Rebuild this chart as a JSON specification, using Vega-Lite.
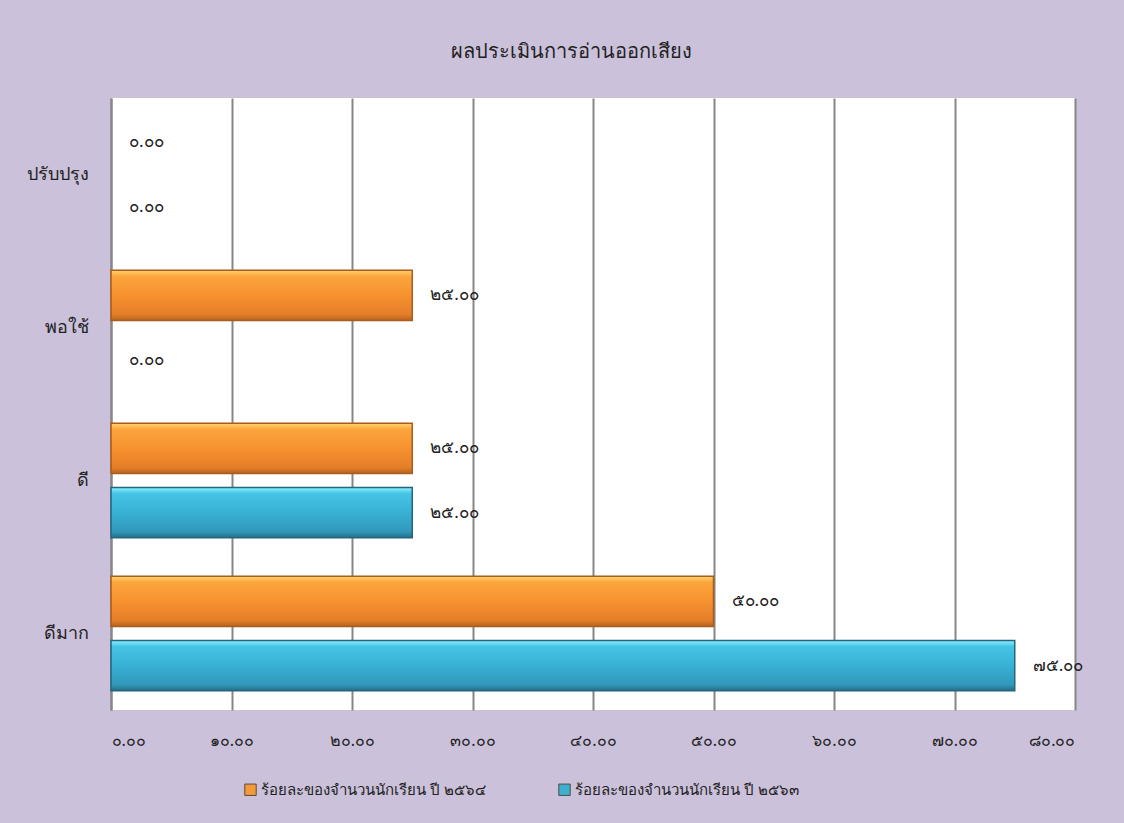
{
  "$schema": "https://vega.github.io/schema/vega-lite/v6.json",
  "autosize": {"type": "none"},
  "width": 964,
  "height": 612,
  "padding": {"left": 111, "top": 98, "right": 49, "bottom": 113},
  "background": "#CBC1DB",
  "config": {
    "font": "Tahoma, Noto Sans, sans-serif",
    "view": {"stroke": null, "fill": "white"}
  },
  "title": {
    "text": "ผลประเมินการอ่านออกเสียง",
    "fontSize": 20,
    "fontWeight": "normal",
    "color": "#222222",
    "anchor": "middle",
    "dx": -22,
    "offset": 36
  },
  "data": {
    "values": [
      {"category": "ปรับปรุง", "series": "ร้อยละของจำนวนนักเรียน ปี ๒๕๖๔", "value": 0},
      {"category": "ปรับปรุง", "series": "ร้อยละของจำนวนนักเรียน ปี ๒๕๖๓", "value": 0},
      {"category": "พอใช้", "series": "ร้อยละของจำนวนนักเรียน ปี ๒๕๖๔", "value": 25},
      {"category": "พอใช้", "series": "ร้อยละของจำนวนนักเรียน ปี ๒๕๖๓", "value": 0},
      {"category": "ดี", "series": "ร้อยละของจำนวนนักเรียน ปี ๒๕๖๔", "value": 25},
      {"category": "ดี", "series": "ร้อยละของจำนวนนักเรียน ปี ๒๕๖๓", "value": 25},
      {"category": "ดีมาก", "series": "ร้อยละของจำนวนนักเรียน ปี ๒๕๖๔", "value": 50},
      {"category": "ดีมาก", "series": "ร้อยละของจำนวนนักเรียน ปี ๒๕๖๓", "value": 75}
    ]
  },
  "encoding": {
    "y": {
      "field": "category",
      "type": "nominal",
      "sort": ["ปรับปรุง", "พอใช้", "ดี", "ดีมาก"],
      "scale": {"paddingInner": 0, "paddingOuter": 0},
      "axis": {
        "title": null,
        "ticks": false,
        "labelFontSize": 18,
        "labelColor": "#222222",
        "labelPadding": 23,
        "domainColor": "#868686",
        "domainWidth": 2
      }
    },
    "yOffset": {
      "field": "series",
      "type": "nominal",
      "sort": ["ร้อยละของจำนวนนักเรียน ปี ๒๕๖๔", "ร้อยละของจำนวนนักเรียน ปี ๒๕๖๓"],
      "scale": {"paddingInner": 0.22, "paddingOuter": 0.3}
    },
    "x": {
      "field": "value",
      "type": "quantitative",
      "scale": {"domain": [0, 80], "nice": false},
      "axis": {
        "title": null,
        "values": [0, 10, 20, 30, 40, 50, 60, 70, 80],
        "labelExpr": "replace(replace(replace(replace(replace(replace(replace(replace(replace(replace(format(datum.value,'.2f'),regexp('0','g'),'๐'),regexp('1','g'),'๑'),regexp('2','g'),'๒'),regexp('3','g'),'๓'),regexp('4','g'),'๔'),regexp('5','g'),'๕'),regexp('6','g'),'๖'),regexp('7','g'),'๗'),regexp('8','g'),'๘'),regexp('9','g'),'๙')",
        "labelFontSize": 16,
        "labelColor": "#222222",
        "labelPadding": 22,
        "ticks": false,
        "domain": false,
        "grid": true,
        "gridColor": "#868686",
        "gridWidth": 2,
        "gridOpacity": 1
      }
    }
  },
  "layer": [
    {
      "mark": {"type": "bar", "strokeWidth": 0},
      "encoding": {
        "color": {
          "field": "series",
          "type": "nominal",
          "sort": ["ร้อยละของจำนวนนักเรียน ปี ๒๕๖๔", "ร้อยละของจำนวนนักเรียน ปี ๒๕๖๓"],
          "scale": {"range": ["#F39A3A", "#3BB0D2"]},
          "legend": {
            "title": null,
            "orient": "none",
            "direction": "horizontal",
            "legendX": 132,
            "legendY": 684,
            "symbolType": "square",
            "symbolSize": 130,
            "symbolStrokeColor": "#5a4a3a",
            "symbolStrokeWidth": 1,
            "labelFontSize": 15,
            "labelLimit": 0,
            "labelColor": "#222222",
            "labelOffset": 3,
            "columnPadding": 70
          }
        }
      }
    },
    {
      "transform": [{"filter": "datum.series == 'ร้อยละของจำนวนนักเรียน ปี ๒๕๖๔' && datum.value > 0"}],
      "mark": {
        "type": "bar",
        "stroke": "#A95C1E",
        "strokeWidth": 1.5,
        "fill": {
          "gradient": "linear", "x1": 0, "y1": 0, "x2": 0, "y2": 1,
          "stops": [
            {"offset": 0, "color": "#FFD56C"},
            {"offset": 0.12, "color": "#FCA53D"},
            {"offset": 0.5, "color": "#F6922F"},
            {"offset": 0.88, "color": "#E47E29"},
            {"offset": 1, "color": "#B8641F"}
          ]
        }
      }
    },
    {
      "transform": [{"filter": "datum.series == 'ร้อยละของจำนวนนักเรียน ปี ๒๕๖๓' && datum.value > 0"}],
      "mark": {
        "type": "bar",
        "stroke": "#24667F",
        "strokeWidth": 1.5,
        "fill": {
          "gradient": "linear", "x1": 0, "y1": 0, "x2": 0, "y2": 1,
          "stops": [
            {"offset": 0, "color": "#8AF0FF"},
            {"offset": 0.12, "color": "#46C4E5"},
            {"offset": 0.5, "color": "#38B1D5"},
            {"offset": 0.88, "color": "#3198BA"},
            {"offset": 1, "color": "#246E87"}
          ]
        }
      }
    },
    {
      "transform": [
        {"calculate": "replace(replace(replace(replace(replace(replace(replace(replace(replace(replace(format(datum.value,'.2f'),regexp('0','g'),'๐'),regexp('1','g'),'๑'),regexp('2','g'),'๒'),regexp('3','g'),'๓'),regexp('4','g'),'๔'),regexp('5','g'),'๕'),regexp('6','g'),'๖'),regexp('7','g'),'๗'),regexp('8','g'),'๘'),regexp('9','g'),'๙')", "as": "label"}
      ],
      "mark": {"type": "text", "align": "left", "baseline": "middle", "dx": 18, "fontSize": 17, "color": "#222222"},
      "encoding": {"text": {"field": "label"}}
    }
  ]
}
